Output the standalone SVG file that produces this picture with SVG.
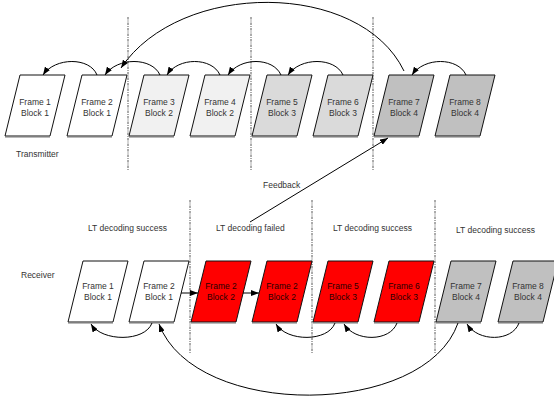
<svg xmlns="http://www.w3.org/2000/svg" width="554" height="405" viewBox="0 0 554 405">
  <style>
    .box { stroke: #111; stroke-width: 1; }
    .shadow { stroke: #777; stroke-width: 1.2; fill: none; }
    .w { fill: #ffffff; }
    .g1 { fill: #f1f1f1; }
    .g2 { fill: #dadada; }
    .g3 { fill: #c0c0c0; }
    .red { fill: #ff0000; }
    .lbl { font-family: "Liberation Sans", Arial, sans-serif; font-size: 8.5px; fill: #333; text-anchor: middle; }
    .red-lbl { fill: #2a0000; }
    .cap { font-family: "Liberation Sans", Arial, sans-serif; font-size: 8.5px; fill: #333; }
    .sep { stroke: #444; stroke-width: 0.9; stroke-dasharray: 2.5 1 1 1; fill: none; }
    .con { stroke: #000; stroke-width: 1; fill: none; marker-end: url(#head); }
  </style>
  <defs>
    <marker id="head" viewBox="0 0 8 6" refX="8" refY="3" markerWidth="8" markerHeight="6" markerUnits="userSpaceOnUse" orient="auto">
      <path d="M0,0 L8,3 L0,6 z" fill="#000"/>
    </marker>
  </defs>
  <rect width="554" height="405" fill="#ffffff"/>

  <!-- block separators -->
  <g id="separators">
    <line class="sep" x1="128" y1="17" x2="128" y2="170"/>
    <line class="sep" x1="251" y1="17" x2="251" y2="170"/>
    <line class="sep" x1="373" y1="17" x2="373" y2="170"/>
    <line class="sep" x1="190" y1="200" x2="190" y2="353"/>
    <line class="sep" x1="312" y1="200" x2="312" y2="353"/>
    <line class="sep" x1="435" y1="200" x2="435" y2="353"/>
  </g>

  <!-- captions -->
  <g id="captions">
    <text class="cap" x="16" y="157">Transmitter</text>
    <text class="cap" x="21" y="278">Receiver</text>
    <text class="cap" x="263" y="188">Feedback</text>
    <text class="cap" x="88" y="231">LT decoding success</text>
    <text class="cap" x="216" y="231">LT decoding failed</text>
    <text class="cap" x="333" y="231">LT decoding success</text>
    <text class="cap" x="456" y="233">LT decoding success</text>
  </g>

  <!-- transmitter frames -->
  <g id="tx-frame1">
    <polygon class="box w" points="20,75 65,75 50,136 5,136"/>
    <line class="shadow" x1="5" y1="137" x2="50" y2="137"/>
    <text class="lbl" x="35" y="105">Frame 1</text>
    <text class="lbl" x="35" y="116">Block 1</text>
  </g>
  <g id="tx-frame2">
    <polygon class="box w" points="82,75 127,75 112,136 67,136"/>
    <line class="shadow" x1="67" y1="137" x2="112" y2="137"/>
    <text class="lbl" x="97" y="105">Frame 2</text>
    <text class="lbl" x="97" y="116">Block 1</text>
  </g>
  <g id="tx-frame3">
    <polygon class="box g1" points="144,75 189,75 174,136 129,136"/>
    <line class="shadow" x1="129" y1="137" x2="174" y2="137"/>
    <text class="lbl" x="159" y="105">Frame 3</text>
    <text class="lbl" x="159" y="116">Block 2</text>
  </g>
  <g id="tx-frame4">
    <polygon class="box g1" points="205,75 250,75 235,136 190,136"/>
    <line class="shadow" x1="190" y1="137" x2="235" y2="137"/>
    <text class="lbl" x="220" y="105">Frame 4</text>
    <text class="lbl" x="220" y="116">Block 2</text>
  </g>
  <g id="tx-frame5">
    <polygon class="box g2" points="267,75 312,75 297,136 252,136"/>
    <line class="shadow" x1="252" y1="137" x2="297" y2="137"/>
    <text class="lbl" x="282" y="105">Frame 5</text>
    <text class="lbl" x="282" y="116">Block 3</text>
  </g>
  <g id="tx-frame6">
    <polygon class="box g2" points="328,75 373,75 358,136 313,136"/>
    <line class="shadow" x1="313" y1="137" x2="358" y2="137"/>
    <text class="lbl" x="343" y="105">Frame 6</text>
    <text class="lbl" x="343" y="116">Block 3</text>
  </g>
  <g id="tx-frame7">
    <polygon class="box g3" points="389,75 434,75 419,136 374,136"/>
    <line class="shadow" x1="374" y1="137" x2="419" y2="137"/>
    <text class="lbl" x="404" y="105">Frame 7</text>
    <text class="lbl" x="404" y="116">Block 4</text>
  </g>
  <g id="tx-frame8">
    <polygon class="box g3" points="450,75 495,75 480,136 435,136"/>
    <line class="shadow" x1="435" y1="137" x2="480" y2="137"/>
    <text class="lbl" x="465" y="105">Frame 8</text>
    <text class="lbl" x="465" y="116">Block 4</text>
  </g>

  <!-- receiver frames -->
  <g id="rx-frame1">
    <polygon class="box w" points="83,261 128,261 113,322 68,322"/>
    <line class="shadow" x1="68" y1="323" x2="113" y2="323"/>
    <text class="lbl" x="98" y="289">Frame 1</text>
    <text class="lbl" x="98" y="300">Block 1</text>
  </g>
  <g id="rx-frame2">
    <polygon class="box w" points="144,261 189,261 174,322 129,322"/>
    <line class="shadow" x1="129" y1="323" x2="174" y2="323"/>
    <text class="lbl" x="159" y="289">Frame 2</text>
    <text class="lbl" x="159" y="300">Block 1</text>
  </g>
  <g id="rx-frame2-block2a">
    <polygon class="box red" points="206,261 251,261 236,322 191,322"/>
    <line class="shadow" x1="191" y1="323" x2="236" y2="323"/>
    <text class="lbl red-lbl" x="221" y="289">Frame 2</text>
    <text class="lbl red-lbl" x="221" y="300">Block 2</text>
  </g>
  <g id="rx-frame2-block2b">
    <polygon class="box red" points="267,261 312,261 297,322 252,322"/>
    <line class="shadow" x1="252" y1="323" x2="297" y2="323"/>
    <text class="lbl red-lbl" x="282" y="289">Frame 2</text>
    <text class="lbl red-lbl" x="282" y="300">Block 2</text>
  </g>
  <g id="rx-frame5">
    <polygon class="box red" points="328,261 373,261 358,322 313,322"/>
    <line class="shadow" x1="313" y1="323" x2="358" y2="323"/>
    <text class="lbl red-lbl" x="343" y="289">Frame 5</text>
    <text class="lbl red-lbl" x="343" y="300">Block 3</text>
  </g>
  <g id="rx-frame6">
    <polygon class="box red" points="389,261 434,261 419,322 374,322"/>
    <line class="shadow" x1="374" y1="323" x2="419" y2="323"/>
    <text class="lbl red-lbl" x="404" y="289">Frame 6</text>
    <text class="lbl red-lbl" x="404" y="300">Block 3</text>
  </g>
  <g id="rx-frame7">
    <polygon class="box g3" points="451,261 496,261 481,322 436,322"/>
    <line class="shadow" x1="436" y1="323" x2="481" y2="323"/>
    <text class="lbl" x="466" y="289">Frame 7</text>
    <text class="lbl" x="466" y="300">Block 4</text>
  </g>
  <g id="rx-frame8">
    <polygon class="box g3" points="513,261 558,261 543,322 498,322"/>
    <line class="shadow" x1="498" y1="323" x2="543" y2="323"/>
    <text class="lbl" x="528" y="289">Frame 8</text>
    <text class="lbl" x="528" y="300">Block 4</text>
  </g>

  <!-- connectors -->
  <g id="connectors">
    <!-- transmitter: frame-to-frame links -->
    <path class="con" d="M97,75 C90,57 55,57 43,75"/>
    <path class="con" d="M160,75 C152,57 117,57 105,75"/>
    <path class="con" d="M220,75 C212,57 178,57 167,75"/>
    <path class="con" d="M281,75 C273,57 240,57 228,75"/>
    <path class="con" d="M343,75 C335,57 300,57 288,75"/>
    <path class="con" d="M466,75 C458,57 424,57 412,75"/>
    <!-- long retransmission link -->
    <path class="con" d="M404,71 C360,-20 180,-20 121,68"/>
    <!-- feedback -->
    <line class="con" x1="250" y1="222" x2="388" y2="138"/>
    <!-- receiver: forward links -->
    <line class="con" x1="181" y1="293" x2="198" y2="293"/>
    <line class="con" x1="243" y1="293" x2="259" y2="293"/>
    <!-- receiver: frame-to-frame links -->
    <path class="con" d="M152,323 C145,342 102,342 91,324"/>
    <path class="con" d="M335,323 C328,342 287,342 276,324"/>
    <path class="con" d="M397,323 C390,342 355,342 344,324"/>
    <path class="con" d="M519,323 C512,342 478,342 467,324"/>
    <!-- long link back to frame 2 -->
    <path class="con" d="M458,323 C425,418 195,420 159,324"/>
  </g>
</svg>
